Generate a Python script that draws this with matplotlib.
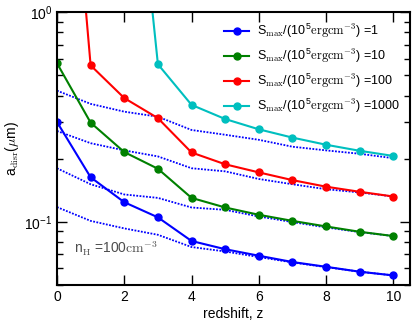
import numpy as np
import matplotlib
matplotlib.use('Agg')
import matplotlib.pyplot as plt

plt.rcParams['font.family'] = ['Liberation Sans', 'DejaVu Sans']
plt.rcParams['mathtext.fontset'] = 'cm'

# redshift grid
z = np.arange(0, 11)

# grain disruption size (um) for each S_max
a_s1 = [0.299, 0.163, 0.124, 0.105, 0.081, 0.074, 0.0689, 0.0643, 0.061, 0.0578, 0.0555]
a_s10 = [0.57, 0.297, 0.215, 0.179, 0.130, 0.117, 0.108, 0.101, 0.095, 0.0896, 0.0855]
a_s100 = [40.0, 0.557, 0.389, 0.312, 0.214, 0.188, 0.172, 0.158, 0.147, 0.139, 0.132]
a_s1000 = [400.0, 150.0, 20.0, 0.564, 0.361, 0.309, 0.276, 0.252, 0.233, 0.218, 0.206]

# dotted reference curves
dot_1 = [0.1175, 0.101, 0.093, 0.0867, 0.0758, 0.0722, 0.0679, 0.064, 0.0608, 0.0578, 0.0555]
dot_10 = [0.180, 0.151, 0.135, 0.130, 0.117, 0.114, 0.106, 0.0997, 0.094, 0.0893, 0.0855]
dot_100 = [0.271, 0.237, 0.219, 0.205, 0.180, 0.174, 0.160, 0.151, 0.143, 0.138, 0.132]
dot_1000 = [0.422, 0.365, 0.335, 0.317, 0.274, 0.26, 0.246, 0.228, 0.219, 0.211, 0.201]

smax = ['1', '10', '100', '1000']
colors = ['#0000ff', '#008000', '#ff0000', '#00bfbf']

fig = plt.figure(figsize=(4.16, 3.26), dpi=100)
ax = fig.add_axes([0.137, 0.126, 0.849, 0.837])

for d in [dot_1, dot_10, dot_100, dot_1000]:
    ax.plot(z, d, color='#0000ff', lw=1.3, dashes=(1.0, 0.8))

for vals, s, c in zip([a_s1, a_s10, a_s100, a_s1000], smax, colors):
    lab = r'S$_{\rm max}$/(10$^{\mathdefault{5}}$${\rm ergcm^{-3}}$) =' + s
    ax.plot(z, vals, '-o', color=c, lw=1.5, ms=5, label=lab)

ax.set_yscale('log')
ax.set_xlim(0, 10.5)
ax.set_ylim(0.05, 1)
ax.set_xticks([0, 2, 4, 6, 8, 10])
ax.set_xlabel('redshift, z', fontsize=10, labelpad=2)
ax.set_ylabel(r'a$_{\rm disr}$($\mu$m)', fontsize=10, labelpad=2)

ax.text(0.5, 0.0745, r'n$_{\rm H}$ =100${\rm cm^{-3}}$', fontsize=10,
        color='0.3', va='center')

ax.tick_params(which='both', direction='in', top=True, right=True, labelsize=10)
ax.tick_params(which='major', length=7, width=1)
ax.tick_params(which='minor', length=4, width=1)
for sp in ax.spines.values():
    sp.set_linewidth(1.5)

ax.legend(loc='upper right', frameon=False, fontsize=9, handlelength=2.0,
          labelspacing=0.55, borderaxespad=0.4, handletextpad=0.6)

fig.savefig('out.png', dpi=100)
